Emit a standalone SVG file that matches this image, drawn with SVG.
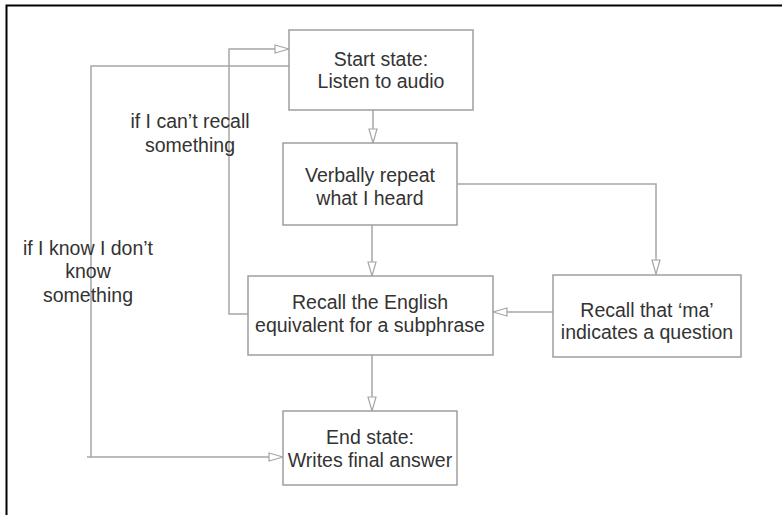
<svg xmlns="http://www.w3.org/2000/svg" width="782" height="515" viewBox="0 0 782 515">
<defs>
<marker id="arr" markerUnits="userSpaceOnUse" markerWidth="17" markerHeight="12" refX="15" refY="5.5" orient="auto">
<path d="M1,1.5 L15,5.5 L1,9.5 Z" fill="#fff" stroke="#a6a6a6" stroke-width="1.2"/>
</marker>
<style>
.box{fill:#fff;stroke:#9e9e9e;stroke-width:1.5}
.t{font-family:"Liberation Sans",Arial,sans-serif;font-size:19.5px;fill:#333;text-anchor:middle}
.c{fill:none;stroke:#a6a6a6;stroke-width:1.5}
</style>
</defs>
<rect width="782" height="515" fill="#fff"/>
<path d="M6.5,515 L6.5,5.5 L782,5.5" fill="none" stroke="#000" stroke-width="2"/>
<g id="connectors">
<path class="c" d="M373,110 L373,143" marker-end="url(#arr)"/>
<path class="c" d="M372,225 L372,276" marker-end="url(#arr)"/>
<path class="c" d="M457,184 L656,184 L656,274" marker-end="url(#arr)"/>
<path class="c" d="M553,312 L493,312" marker-end="url(#arr)"/>
<path class="c" d="M372,355 L372,411" marker-end="url(#arr)"/>
<path class="c" d="M248,314 L229,314 L229,49 L289,49" marker-end="url(#arr)"/>
<path class="c" d="M289,66 L91,66 L91,457"/>
<path class="c" d="M87,457 L283,457" marker-end="url(#arr)"/>
</g>
<g id="label-cant-recall">
<text class="t" x="190" y="128">if I can’t recall</text>
<text class="t" x="190" y="152">something</text>
</g>
<g id="label-know">
<text class="t" x="88" y="255">if I know I don’t</text>
<text class="t" x="88" y="278">know</text>
<text class="t" x="88" y="302">something</text>
</g>
<g id="start">
<rect class="box" x="289" y="30" width="184" height="80"/>
<text class="t" x="381" y="66">Start state:</text>
<text class="t" x="381" y="88">Listen to audio</text>
</g>
<g id="verbally">
<rect class="box" x="283" y="143" width="174" height="82"/>
<text class="t" x="370" y="182">Verbally repeat</text>
<text class="t" x="370" y="205">what I heard</text>
</g>
<g id="recall-english">
<rect class="box" x="248" y="276" width="245" height="79"/>
<text class="t" x="370" y="309">Recall the English</text>
<text class="t" x="370" y="332">equivalent for a subphrase</text>
</g>
<g id="recall-ma">
<rect class="box" x="553" y="275" width="188" height="82"/>
<text class="t" x="647" y="317">Recall that ‘ma’</text>
<text class="t" x="647" y="339">indicates a question</text>
</g>
<g id="end">
<rect class="box" x="283" y="411" width="174" height="74"/>
<text class="t" x="370" y="444">End state:</text>
<text class="t" x="370" y="467">Writes final answer</text>
</g>
</svg>
